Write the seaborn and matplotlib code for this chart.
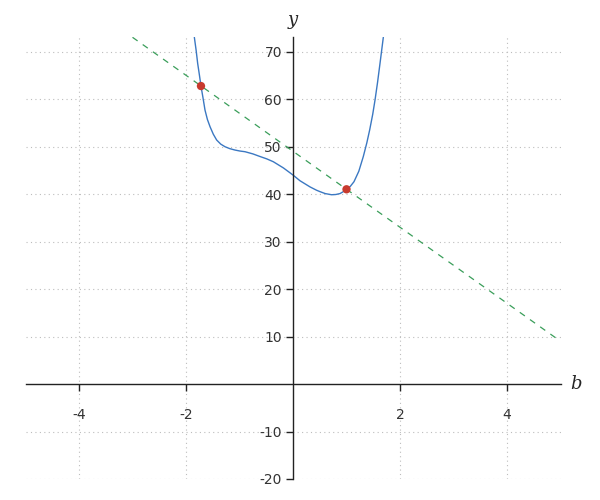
import numpy as np
import pandas as pd
import seaborn as sns
import matplotlib.pyplot as plt

# curve values
b_vals = [-1.844, -1.81, -1.782, -1.75, -1.720, -1.68, -1.645, -1.60, -1.551, -1.49,
          -1.427, -1.35, -1.271, -1.18, -1.084, -0.99, -0.897, -0.75, -0.617, -0.49,
          -0.368, -0.18, 0.0, 0.13, 0.318, 0.44, 0.505, 0.6, 0.72, 0.8, 0.879, 0.94,
          1.0, 1.07, 1.14, 1.23, 1.314, 1.38, 1.433, 1.49, 1.533, 1.58, 1.626, 1.688]
y_vals = [73.0, 70.2, 67.5, 65.1, 62.74, 60.1, 57.68, 55.7, 54.18, 52.6,
          51.37, 50.5, 49.96, 49.55, 49.26, 49.05, 48.91, 48.45, 47.9, 47.4,
          46.8, 45.5, 44.0, 42.8, 41.5, 40.8, 40.5, 40.1, 39.85, 39.9, 40.1, 40.5,
          41.0, 41.6, 42.6, 44.8, 47.9, 50.8, 53.5, 56.8, 59.8, 63.5, 67.5, 73.0]

# secant line (dashed) end points
line_b = [-3, 5]
line_y = [73, 9]

# intersection points
pts_b = [-1.72, 1.0]
pts_y = [62.74, 41.0]

x_ticks = [-4, -2, 2, 4]
y_ticks = [-20, -10, 10, 20, 30, 40, 50, 60, 70]

curve = pd.DataFrame({'b': b_vals, 'y': y_vals})
secant = pd.DataFrame({'b': line_b, 'y': line_y})
points = pd.DataFrame({'b': pts_b, 'y': pts_y})

sns.set_style('white')
plt.rcParams['axes.unicode_minus'] = False
fig = plt.figure(figsize=(6, 5), dpi=100)
ax = fig.add_axes([0.0425, 0.042, 0.8917, 0.8834])

sns.lineplot(data=curve, x='b', y='y', sort=False, color='#3b78c2', lw=1.0, ax=ax)
sns.lineplot(data=secant, x='b', y='y', color='#3a9e5a', lw=0.9,
             linestyle=(0, (5, 5)), ax=ax)
sns.scatterplot(data=points, x='b', y='y', color='#c83a2e', s=36,
                edgecolor='none', zorder=5, ax=ax)

ax.set_xlim(-5, 5)
ax.set_ylim(-20, 73)
ax.set_xticks(x_ticks)
ax.set_yticks(y_ticks)
ax.set_xlabel('')
ax.set_ylabel('')

# axes crossing at the origin
ax.spines['left'].set_position(('data', 0))
ax.spines['bottom'].set_position(('data', 0))
ax.spines['top'].set_visible(False)
ax.spines['right'].set_visible(False)
for s in ['left', 'bottom']:
    ax.spines[s].set_color('#222222')
    ax.spines[s].set_linewidth(1.0)

ax.tick_params(axis='both', direction='out', length=5, width=1, color='#222222',
               labelsize=10, labelcolor='#333333')
ax.tick_params(axis='x', pad=12)
ax.tick_params(axis='y', pad=3)
ax.xaxis.set_ticks_position('bottom')
ax.yaxis.set_ticks_position('left')

ax.grid(True, linestyle=(0, (1, 3)), color='#bdbdbd', lw=0.8)

ax.annotate('y', xy=(0, 1), xycoords=('data', 'axes fraction'), xytext=(0, 6),
            textcoords='offset points', ha='center', va='bottom',
            family='DejaVu Serif', style='italic', fontsize=13)
ax.annotate('b', xy=(1, 0), xycoords=('axes fraction', 'data'), xytext=(7, 0),
            textcoords='offset points', ha='left', va='center',
            family='DejaVu Serif', style='italic', fontsize=13)

plt.savefig('out.png', dpi=100)
